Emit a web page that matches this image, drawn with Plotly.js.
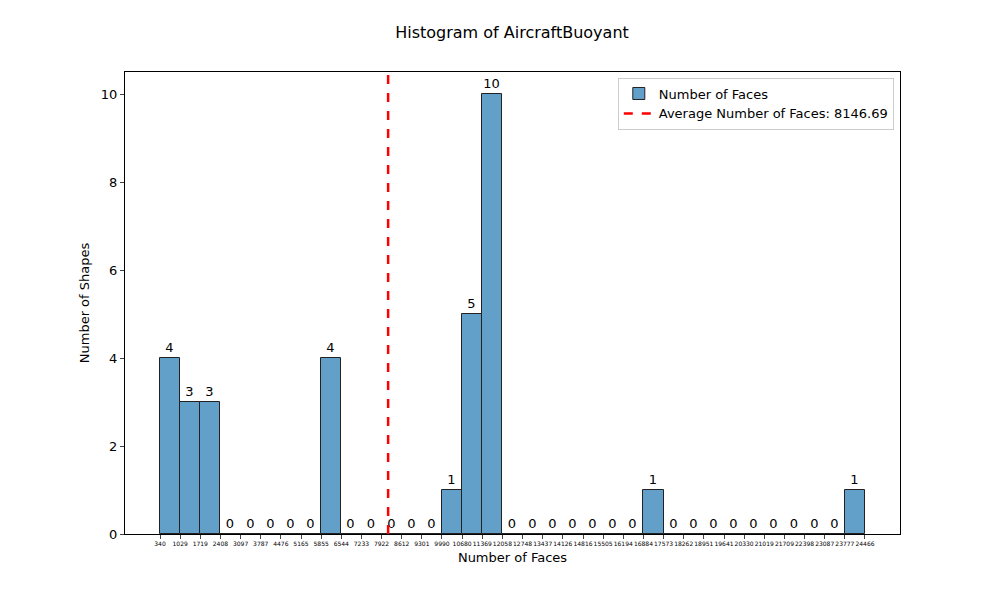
<!DOCTYPE html>
<html><head><script src="https://cdn.plot.ly/plotly-3.0.1.min.js"></script></head>
<body style="margin:0"><div id="c" style="width:1000px;height:600px"></div>
<script>
const edges = [340,1029,1719,2408,3097,3787,4476,5165,5855,6544,7233,7922,8612,9301,9990,10680,11369,12058,12748,13437,14126,14816,15505,16194,16884,17573,18262,18951,19641,20330,21019,21709,22398,23087,23777,24466];
const counts = [4,3,3,0,0,0,0,0,4,0,0,0,0,0,1,5,10,0,0,0,0,0,0,0,1,0,0,0,0,0,0,0,0,0,1];
const average = 8146.69;
const centers = counts.map((_, i) => (edges[i] + edges[i+1]) / 2);
const widths = counts.map((_, i) => edges[i+1] - edges[i]);
const traces = [
 {type:'bar', x:centers, y:counts, width:widths, name:'Number of Faces',
  marker:{color:'rgba(31,119,180,0.7)', line:{color:'#222', width:1}},
  text:counts.map(String), textposition:'outside', cliponaxis:false,
  textfont:{size:13, color:'#000'}},
 {type:'scatter', mode:'lines', x:[average, average], y:[0, 10.5],
  name:'Average Number of Faces: ' + average.toFixed(2),
  line:{color:'red', width:2.5, dash:'dash'}}
];
const layout = {
 width:1000, height:600, paper_bgcolor:'#fff', plot_bgcolor:'#fff',
 font:{family:'DejaVu Sans', color:'#000'},
 margin:{l:125, r:100, t:72, b:66},
 title:{text:'Histogram of AircraftBuoyant', x:0.512, y:0.955, font:{size:16}},
 showlegend:true,
 legend:{x:0.992, y:0.988, xanchor:'right', yanchor:'top', bordercolor:'#ccc', borderwidth:1, font:{size:13}},
 xaxis:{range:[-858, 25664], tickvals:edges, ticktext:edges.map(String), tickangle:0,
  tickfont:{size:6}, ticks:'outside', ticklen:4, showgrid:false, zeroline:false,
  showline:true, linecolor:'#000', mirror:true,
  title:{text:'Number of Faces', font:{size:13}, standoff:6}},
 yaxis:{range:[0, 10.5], tickvals:[0,2,4,6,8,10], ticks:'outside', ticklen:4, showgrid:false, zeroline:false,
  showline:true, linecolor:'#000', mirror:true, tickfont:{size:13},
  title:{text:'Number of Shapes', font:{size:13}}},
 bargap:0
};
Plotly.newPlot('c', traces, layout, {displayModeBar:false});
</script></body></html>
